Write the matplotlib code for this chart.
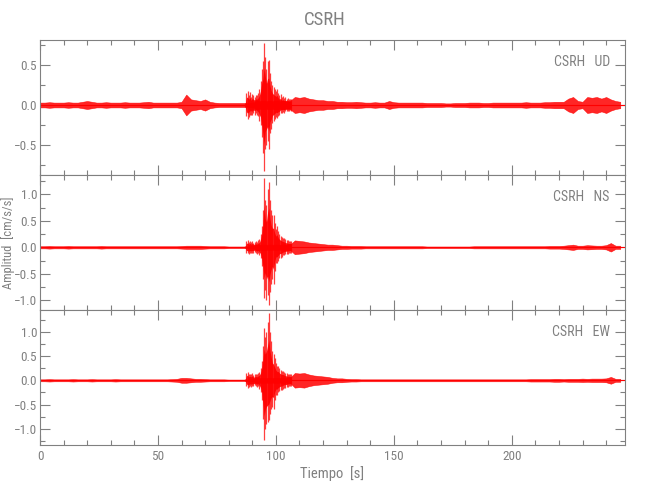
import matplotlib
matplotlib.use("Agg")
import matplotlib.pyplot as plt
import numpy as np
from matplotlib import font_manager
from matplotlib.ticker import MultipleLocator

# thin narrow face like the IDL vector font, if one is installed
installed = {f.name for f in font_manager.fontManager.ttflist}
narrow = [n for n in ["Liberation Sans Narrow", "DejaVu Sans Condensed",
                      "Roboto Condensed", "Open Sans Condensed"] if n in installed]
plt.rcParams["font.family"] = narrow[:1] + ["Liberation Sans", "DejaVu Sans"]

GRAY = "#808080"
TRACE = "#ff0000"

station = "CSRH"
components = ["UD", "NS", "EW"]

# noise envelope (half width, cm/s/s) every 2 s, 0..246 s
env_time = np.arange(0, 248, 2)
ud_env = [
    0.03, 0.03, 0.035, 0.03, 0.03, 0.03, 0.035, 0.03, 0.03, 0.04,
    0.05, 0.04, 0.03, 0.03, 0.035, 0.03, 0.03, 0.03, 0.035, 0.03,
    0.03, 0.03, 0.035, 0.04, 0.03, 0.03, 0.03, 0.03, 0.03, 0.03,
    0.04, 0.13, 0.07, 0.06, 0.05, 0.07, 0.04, 0.03, 0.025, 0.025,
    0.025, 0.025, 0.025, 0.025, 0.025, 0.03, 0.05, 0.05, 0.05, 0.05,
    0.05, 0.05, 0.05, 0.05, 0.1, 0.09, 0.1, 0.08, 0.07, 0.06,
    0.06, 0.05, 0.05, 0.04, 0.04, 0.035, 0.035, 0.04, 0.035, 0.03,
    0.03, 0.035, 0.03, 0.03, 0.05, 0.035, 0.03, 0.03, 0.03, 0.03,
    0.03, 0.03, 0.025, 0.025, 0.025, 0.025, 0.02, 0.02, 0.025, 0.025,
    0.025, 0.03, 0.03, 0.03, 0.025, 0.025, 0.03, 0.03, 0.03, 0.03,
    0.03, 0.03, 0.03, 0.035, 0.03, 0.03, 0.03, 0.035, 0.035, 0.04,
    0.04, 0.04, 0.08, 0.1, 0.05, 0.04, 0.1, 0.09, 0.1, 0.08,
    0.1, 0.07, 0.05, 0.04,
]
ns_env = [
    0.02, 0.02, 0.025, 0.02, 0.02, 0.02, 0.025, 0.02, 0.02, 0.02,
    0.02, 0.02, 0.02, 0.025, 0.02, 0.02, 0.02, 0.02, 0.02, 0.02,
    0.02, 0.02, 0.02, 0.02, 0.02, 0.02, 0.02, 0.02, 0.02, 0.02,
    0.025, 0.03, 0.03, 0.03, 0.03, 0.025, 0.02, 0.02, 0.02, 0.02,
    0.015, 0.015, 0.015, 0.015, 0.015, 0.02, 0.05, 0.05, 0.05, 0.05,
    0.05, 0.05, 0.05, 0.05, 0.13, 0.12, 0.11, 0.09, 0.08, 0.07,
    0.06, 0.05, 0.05, 0.04, 0.03, 0.03, 0.025, 0.025, 0.025, 0.02,
    0.02, 0.02, 0.02, 0.02, 0.02, 0.02, 0.02, 0.02, 0.02, 0.02,
    0.02, 0.02, 0.015, 0.015, 0.015, 0.015, 0.015, 0.015, 0.015, 0.015,
    0.015, 0.015, 0.02, 0.02, 0.02, 0.02, 0.02, 0.02, 0.02, 0.02,
    0.02, 0.02, 0.02, 0.02, 0.02, 0.02, 0.02, 0.02, 0.025, 0.025,
    0.025, 0.03, 0.04, 0.05, 0.03, 0.03, 0.04, 0.035, 0.03, 0.03,
    0.04, 0.08, 0.03, 0.03,
]
ew_env = [
    0.02, 0.02, 0.025, 0.02, 0.02, 0.02, 0.02, 0.025, 0.02, 0.02,
    0.02, 0.025, 0.02, 0.02, 0.02, 0.02, 0.025, 0.02, 0.02, 0.02,
    0.02, 0.02, 0.02, 0.02, 0.02, 0.02, 0.02, 0.02, 0.025, 0.03,
    0.05, 0.05, 0.04, 0.03, 0.03, 0.025, 0.02, 0.02, 0.02, 0.02,
    0.015, 0.015, 0.015, 0.015, 0.015, 0.02, 0.05, 0.05, 0.05, 0.05,
    0.05, 0.05, 0.05, 0.05, 0.15, 0.14, 0.15, 0.12, 0.1, 0.09,
    0.08, 0.07, 0.05, 0.04, 0.04, 0.03, 0.025, 0.025, 0.02, 0.02,
    0.02, 0.02, 0.02, 0.02, 0.02, 0.02, 0.02, 0.02, 0.02, 0.02,
    0.02, 0.02, 0.02, 0.02, 0.02, 0.02, 0.02, 0.02, 0.02, 0.02,
    0.02, 0.02, 0.02, 0.02, 0.02, 0.02, 0.02, 0.02, 0.02, 0.02,
    0.02, 0.02, 0.02, 0.02, 0.025, 0.025, 0.025, 0.025, 0.025, 0.03,
    0.03, 0.025, 0.03, 0.03, 0.03, 0.035, 0.03, 0.035, 0.035, 0.035,
    0.04, 0.07, 0.03, 0.03,
]

# strong-motion burst, peak / trough every 0.5 s from 87 s
burst_time = np.arange(87.0, 107.0, 0.5)
ud_hi = [0.03, 0.15, 0.17, 0.12, 0.16, 0.10, 0.14, 0.12, 0.10, 0.13,
         0.12, 0.15, 0.20, 0.30, 0.45, 0.55, 0.77, 0.60, 0.45, 0.55,
         0.56, 0.40, 0.30, 0.25, 0.22, 0.20, 0.18, 0.20, 0.15, 0.12,
         0.14, 0.10, 0.11, 0.09, 0.10, 0.08, 0.09, 0.07, 0.08, 0.07]
ud_lo = [-0.03, -0.14, -0.17, -0.15, -0.12, -0.12, -0.13, -0.10, -0.12, -0.10,
         -0.12, -0.14, -0.20, -0.25, -0.40, -0.60, -0.82, -0.55, -0.50, -0.45,
         -0.55, -0.35, -0.30, -0.22, -0.20, -0.18, -0.15, -0.16, -0.14, -0.13,
         -0.10, -0.10, -0.09, -0.10, -0.08, -0.08, -0.07, -0.08, -0.06, -0.07]
ns_hi = [0.02, 0.12, 0.14, 0.10, 0.12, 0.10, 0.12, 0.09, 0.10, 0.11,
         0.10, 0.13, 0.15, 0.25, 0.40, 0.70, 1.30, 0.90, 0.80, 1.10,
         1.24, 0.90, 0.70, 0.60, 0.60, 0.45, 0.35, 0.40, 0.30, 0.25,
         0.22, 0.20, 0.18, 0.17, 0.15, 0.14, 0.13, 0.12, 0.12, 0.11]
ns_lo = [-0.02, -0.10, -0.11, -0.12, -0.10, -0.11, -0.10, -0.10, -0.09, -0.10,
         -0.12, -0.10, -0.15, -0.20, -0.35, -0.60, -0.96, -0.80, -1.00, -0.90,
         -1.09, -0.85, -0.70, -0.60, -0.70, -0.45, -0.30, -0.30, -0.25, -0.20,
         -0.20, -0.18, -0.15, -0.14, -0.13, -0.12, -0.12, -0.11, -0.10, -0.10]
ew_hi = [0.02, 0.15, 0.18, 0.12, 0.14, 0.12, 0.15, 0.11, 0.12, 0.13,
         0.12, 0.15, 0.18, 0.25, 0.40, 0.70, 1.07, 0.90, 1.00, 1.20,
         1.38, 1.00, 0.80, 0.60, 0.55, 0.45, 0.35, 0.30, 0.30, 0.25,
         0.22, 0.20, 0.20, 0.18, 0.16, 0.15, 0.14, 0.14, 0.13, 0.12]
ew_lo = [-0.02, -0.12, -0.16, -0.14, -0.12, -0.13, -0.12, -0.12, -0.10, -0.12,
         -0.13, -0.12, -0.17, -0.25, -0.40, -0.80, -1.23, -1.00, -0.90, -0.85,
         -0.82, -0.70, -0.60, -0.55, -0.60, -0.40, -0.30, -0.30, -0.25, -0.22,
         -0.20, -0.20, -0.17, -0.15, -0.15, -0.14, -0.13, -0.12, -0.12, -0.11]

envs = [ud_env, ns_env, ew_env]
bursts = [(ud_hi, ud_lo), (ns_hi, ns_lo), (ew_hi, ew_lo)]
ylims = [(-0.875, 0.8125), (-1.183, 1.364), (-1.33, 1.446)]
xlim = (0, 248)

fig = plt.figure(figsize=(6.5, 5.0), dpi=100)
left, width, height = 40 / 650, 585 / 650, 135 / 500
bottoms = [1 - 175 / 500, 1 - 310 / 500, 1 - 445 / 500]
fmt_y = plt.FuncFormatter(lambda v, p: f"{v:.1f}".replace("-", "\u2212"))

axes = []
for i, comp in enumerate(components):
    ax = fig.add_axes([left, bottoms[i], width, height])
    env = np.array(envs[i])
    hi, lo = bursts[i]
    ax.fill_between(env_time, -env, env, color=TRACE, lw=0.4, alpha=0.85)
    ax.fill_between(burst_time, np.array(lo) * 0.6, np.array(hi) * 0.6,
                    color=TRACE, lw=0, alpha=0.9)
    ax.vlines(burst_time, lo, hi, color=TRACE, lw=0.9, alpha=0.75)
    ax.axhline(0, color=TRACE, lw=0.8)
    ax.set_xlim(*xlim)
    ax.set_ylim(*ylims[i])
    ax.xaxis.set_major_locator(MultipleLocator(50))
    ax.xaxis.set_minor_locator(MultipleLocator(10))
    ax.yaxis.set_major_locator(MultipleLocator(0.5))
    ax.yaxis.set_minor_locator(MultipleLocator(0.25))
    ax.tick_params(which="both", direction="in", top=True, right=True,
                   colors=GRAY, labelsize=9.5, labelcolor=GRAY)
    ax.tick_params(axis="y", pad=2)
    ax.tick_params(which="major", length=7, width=0.8)
    ax.tick_params(which="minor", length=3.5, width=0.8)
    for s in ax.spines.values():
        s.set_color(GRAY)
        s.set_linewidth(0.8)
    ax.yaxis.set_major_formatter(fmt_y)
    if i < 2:
        ax.set_xticklabels([])
    ax.text(0.974, 0.84, f"{station}   {comp}", transform=ax.transAxes,
            ha="right", va="center", color=GRAY, fontsize=10)
    axes.append(ax)

axes[2].xaxis.set_major_formatter(plt.FuncFormatter(lambda v, p: f"{v:.0f}"))
axes[2].set_xlabel("Tiempo  [s]", color=GRAY, fontsize=10.5, labelpad=2)
axes[1].set_ylabel("Amplitud  [cm/s/s]", color=GRAY, fontsize=9)
axes[1].yaxis.set_label_coords(-0.043, 0.5)
fig.text(0.5, 1 - 20 / 500, station, ha="center", va="center",
         color=GRAY, fontsize=13.5)

fig.savefig("out.png", dpi=100)
